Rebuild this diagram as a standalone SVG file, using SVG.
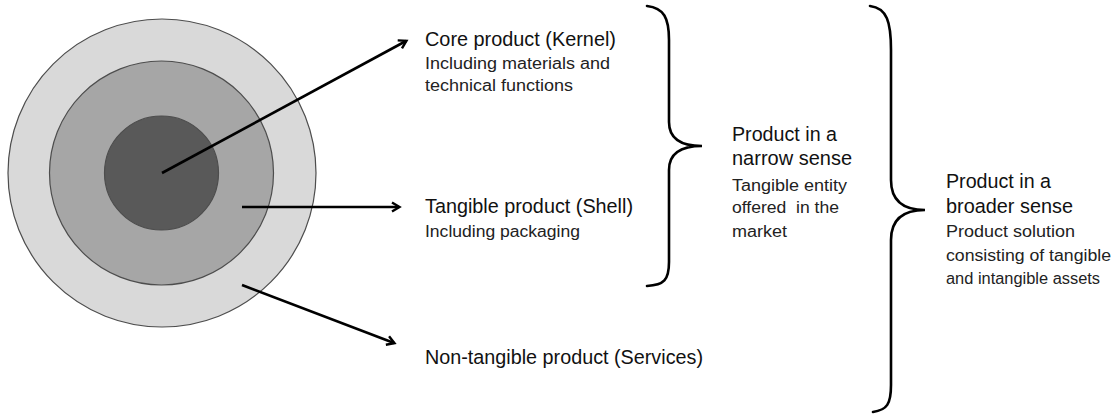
<svg xmlns="http://www.w3.org/2000/svg" width="1116" height="415" viewBox="0 0 1116 415">
<style>
.title{font-family:"Liberation Sans",Arial,sans-serif;font-size:20.5px;fill:#111}
.sub{font-family:"Liberation Sans",Arial,sans-serif;font-size:16px;fill:#222}
.ring{stroke:#4d4d4d;stroke-width:1.2}
.arrow{stroke:#000;stroke-width:2.6;fill:none;marker-end:url(#ah)}
.brace{stroke:#000;stroke-width:2.6;fill:none;stroke-linecap:round}
</style>
<defs>
<marker id="ah" markerWidth="12" markerHeight="12" refX="9" refY="6" orient="auto" markerUnits="userSpaceOnUse">
<path d="M2,1.5 L9.5,6 L2,10.5" fill="none" stroke="#000" stroke-width="2.4"/>
</marker>
</defs>
<rect width="1116" height="415" fill="#fff"/>
<g id="onion">
<circle class="ring" cx="162" cy="173" r="154" fill="#d9d9d9"/>
<circle class="ring" cx="161.5" cy="173" r="112" fill="#a6a6a6"/>
<circle class="ring" cx="161.5" cy="173" r="57" fill="#595959"/>
</g>
<g id="connectors">
<line class="arrow" x1="162" y1="173" x2="406" y2="41"/>
<line class="arrow" x1="242" y1="207" x2="399" y2="207"/>
<line class="arrow" x1="242" y1="285" x2="394" y2="343"/>
<path class="brace" d="M647,6 C664,8 669,18 669,40 L669,122 C669,138 680,146 702,146 C680,146 669,154 669,170 L669,262 C669,280 664,285 647,286"/>
<path class="brace" d="M870,6 C887,8 891,22 891,50 L891,180 C891,200 903,210 925,210 C903,210 891,220 891,240 L891,385 C891,404 887,410 873,412"/>
</g>
<g id="core">
<text class="title" x="425" y="46" textLength="191" lengthAdjust="spacingAndGlyphs">Core product (Kernel)</text>
<text class="sub" x="425" y="69" textLength="185" lengthAdjust="spacingAndGlyphs">Including materials and</text>
<text class="sub" x="425" y="91" textLength="148" lengthAdjust="spacingAndGlyphs">technical functions</text>
</g>
<g id="tangible">
<text class="title" x="425" y="213" textLength="208" lengthAdjust="spacingAndGlyphs">Tangible product (Shell)</text>
<text class="sub" x="425" y="237" textLength="155" lengthAdjust="spacingAndGlyphs">Including packaging</text>
</g>
<g id="nontangible">
<text class="title" x="425" y="364" textLength="278" lengthAdjust="spacingAndGlyphs">Non-tangible product (Services)</text>
</g>
<g id="narrow">
<text class="title" x="732" y="141" textLength="105" lengthAdjust="spacingAndGlyphs">Product in a</text>
<text class="title" x="732" y="165" textLength="120" lengthAdjust="spacingAndGlyphs">narrow sense</text>
<text class="sub" x="732" y="191" textLength="115" lengthAdjust="spacingAndGlyphs">Tangible entity</text>
<text class="sub" x="732" y="213" textLength="107" lengthAdjust="spacingAndGlyphs" xml:space="preserve">offered  in the</text>
<text class="sub" x="732" y="237" textLength="55" lengthAdjust="spacingAndGlyphs">market</text>
</g>
<g id="broader">
<text class="title" x="946" y="188" textLength="105" lengthAdjust="spacingAndGlyphs">Product in a</text>
<text class="title" x="946" y="213" textLength="127" lengthAdjust="spacingAndGlyphs">broader sense</text>
<text class="sub" x="946" y="237" textLength="129" lengthAdjust="spacingAndGlyphs">Product solution</text>
<text class="sub" x="946" y="261" textLength="165" lengthAdjust="spacingAndGlyphs">consisting of tangible</text>
<text class="sub" x="946" y="284" textLength="154" lengthAdjust="spacingAndGlyphs">and intangible assets</text>
</g>
</svg>
